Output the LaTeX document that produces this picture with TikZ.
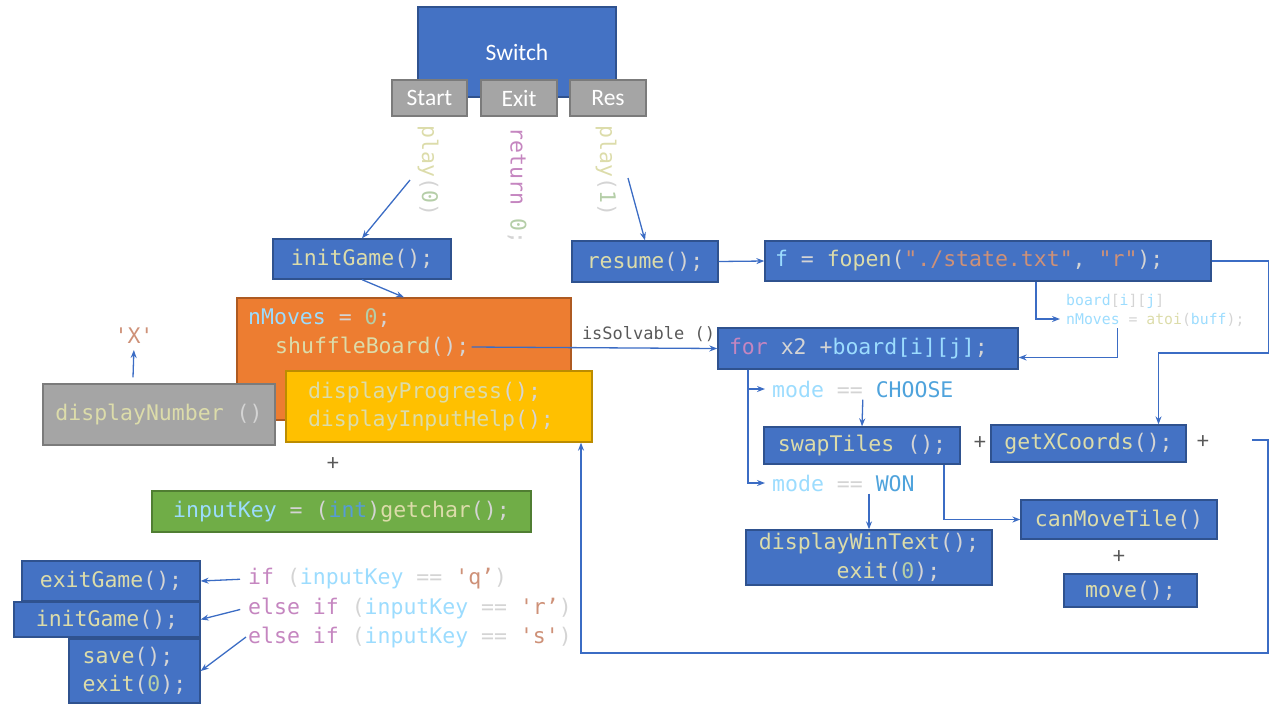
\documentclass[tikz,border=0pt]{standalone}
\usepackage{fontspec}
\setmainfont{Carlito}
\newfontfamily\codefont[Ligatures=TeXOff]{DejaVu Sans Mono}
\usetikzlibrary{arrows.meta}

\definecolor{boxblue}{HTML}{4472C4}
\definecolor{boxblueedge}{HTML}{2F528F}
\definecolor{boxgray}{HTML}{A5A5A5}
\definecolor{boxgrayedge}{HTML}{7B7B7B}
\definecolor{boxorange}{HTML}{ED7D31}
\definecolor{boxorangeedge}{HTML}{AE5A21}
\definecolor{boxyellow}{HTML}{FFC000}
\definecolor{boxyellowedge}{HTML}{BC8C00}
\definecolor{boxgreen}{HTML}{70AD47}
\definecolor{boxgreenedge}{HTML}{507E32}
\definecolor{wireblue}{HTML}{3B6CC4}
\definecolor{cfunc}{HTML}{DCDCAA}
\definecolor{cvar}{HTML}{9CDCFE}
\definecolor{cpunct}{HTML}{D4D4D4}
\definecolor{ckw}{HTML}{C586C0}
\definecolor{cstr}{HTML}{CE9178}
\definecolor{cnum}{HTML}{B5CEA8}
\definecolor{ctype}{HTML}{569CD6}
\definecolor{cenum}{HTML}{4FA3DC}
\definecolor{plusgray}{HTML}{595959}

\newcommand{\codefn}[1]{\textcolor{cfunc}{#1}}
\newcommand{\codevar}[1]{\textcolor{cvar}{#1}}
\newcommand{\codekw}[1]{\textcolor{ckw}{#1}}
\newcommand{\codestr}[1]{\textcolor{cstr}{#1}}
\newcommand{\codenum}[1]{\textcolor{cnum}{#1}}
\newcommand{\codetype}[1]{\textcolor{ctype}{#1}}
\newcommand{\codeenum}[1]{\textcolor{cenum}{#1}}
\newcommand{\codesize}{\fontsize{21.5}{28.5}\selectfont}
\newcommand{\midcodesize}{\fontsize{17}{20}\selectfont}
\newcommand{\smallcodesize}{\fontsize{14.8}{19}\selectfont}
\newcommand{\labelsize}{\fontsize{23.5}{27}\selectfont}

\begin{document}
\begin{tikzpicture}[x=1pt, y=-1pt, >={Stealth[length=8pt,width=6pt]}]
        \tikzstyle{codebox}=[draw=boxblueedge, fill=boxblue, line width=1.3pt, inner sep=2pt, font=\codefont\codesize, text=cpunct]
        \tikzstyle{menubox}=[draw=boxgrayedge, fill=boxgray, line width=1.2pt, inner sep=2pt, font=\labelsize, text=white]
        \tikzstyle{codetext}=[inner sep=2pt, font=\codefont\codesize, text=cpunct]
        \tikzstyle{plussign}=[inner sep=1pt, font=\labelsize, text=plusgray]
        \tikzstyle{link}=[draw=wireblue, line width=1.3pt]

        \useasboundingbox (0,0) rectangle (1276,713);

        \node[codebox, font=\labelsize, text=white, minimum width=198pt, minimum height=90pt] (switch) at (517,52) {Switch};
        \node[menubox, minimum width=75pt, minimum height=36pt] (start) at (429.5,98) {Start};
        \node[menubox, minimum width=76pt, minimum height=36pt] (exit) at (519,98) {Exit};
        \node[menubox, minimum width=76pt, minimum height=36pt] (res) at (608,98) {Res};

        \node[codetext, rotate=-90] (play0) at (428,171) {\codefn{play}(\codenum{0})};
        \node[codetext, rotate=-90] (ret) at (517,186) {\codekw{return} \codenum{0};};
        \node[codetext, rotate=-90] (play1) at (606,171) {\codefn{play}(\codenum{1})};

        \node[codebox, minimum width=178pt, minimum height=40pt] (initgame) at (362,259) {\codefn{initGame}();};
        \node[codebox, minimum width=146pt, minimum height=41pt] (resume) at (645,261.5) {\codefn{resume}();};
        \node[codebox, inner xsep=10pt, text width=426pt, align=flush left, minimum height=40pt] (fopen) at (988,261) {\codevar{f} = \codefn{fopen}(\codestr{"./state.txt"}, \codestr{"r"});};
        \node[codetext, anchor=west, align=flush left, font=\codefont\smallcodesize] (boardtxt) at (1064,310) {\codevar{board}[\codevar{i}][\codevar{j}]\\\codevar{nMoves} = \codefn{atoi}(\codevar{buff});};

        \node[draw=boxorangeedge, fill=boxorange, line width=1.3pt, minimum width=334pt, minimum height=122pt] (shuffle) at (404,359) {};
        \node[codetext, anchor=west] (nmoves) at (246,318) {\codevar{nMoves} = \codenum{0};};
        \node[codetext, anchor=west] (shuffletxt) at (273,347) {\codefn{shuffleBoard}();};
        \node[codebox, draw=boxgrayedge, fill=boxgray, minimum width=232pt, minimum height=61pt] (dispnum) at (159,414.5) {\codefn{displayNumber} ()};
        \node[codebox, draw=boxyellowedge, fill=boxyellow, inner xsep=22pt, text width=262pt, align=flush left, minimum height=71pt] (progress) at (439,406.5) {\codefn{displayProgress}();\\\codefn{displayInputHelp}();};
        \node[codetext] (xchar) at (134,336) {\codestr{'X'}};
        \node[plussign] (plus1) at (333,464) {+};
        \node[codebox, draw=boxgreenedge, fill=boxgreen, minimum width=379pt, minimum height=41pt] (inputkey) at (341.5,511.5) {\codevar{inputKey} = (\codetype{int})\codefn{getchar}();};

        \node[codebox, inner xsep=11pt, text width=278pt, align=flush left, minimum height=41pt] (for) at (868,348.5) {\codekw{for} x2 +\codevar{board[i][j]};};
        \node[codetext, anchor=west] (choose) at (770,389) {\codevar{mode} == \codeenum{CHOOSE}};
        \node[codetext, anchor=west] (won) at (770,483) {\codevar{mode} == \codeenum{WON}};
        \node[codebox, minimum width=196pt, minimum height=37pt] (swap) at (862,445.5) {\codefn{swapTiles} ();};
        \node[plussign] (plus2) at (980,443) {+};
        \node[codebox, minimum width=195pt, minimum height=37pt] (getx) at (1088.5,443.5) {\codefn{getXCoords}();};
        \node[plussign] (plus3) at (1203,442) {+};
        \node[codebox, minimum width=196pt, minimum height=39pt] (canmove) at (1119,519.5) {\codefn{canMoveTile}()};
        \node[plussign] (plus4) at (1119,557) {+};
        \node[codebox, minimum width=133pt, minimum height=33pt] (move) at (1130.5,590.5) {\codefn{move}();};
        \node[codebox, align=flush center, minimum width=246pt, minimum height=55pt] (wintext) at (869,557.5) {\codefn{displayWinText}();\\\phantom{xxx}\codefn{exit}(\codenum{0});};
        \coordinate (loopin) at (1252,440);

        \node[codebox, minimum width=178pt, minimum height=40pt] (exitgame) at (111,581) {\codefn{exitGame}();};
        \node[codebox, minimum width=186pt, minimum height=35pt] (initgame2) at (107,619.5) {\codefn{initGame}();};
        \node[codebox, align=flush left, minimum width=131pt, minimum height=64pt] (savebox) at (134.5,671) {\codefn{save}();\\\codefn{exit}(\codenum{0});};
        \node[codetext, anchor=west] (ifq) at (246,579) {\codekw{if} (\codevar{inputKey} == \codestr{'q’})};
        \node[codetext, anchor=west] (ifr) at (246,608) {\codekw{else if} (\codevar{inputKey} == \codestr{'r’})};
        \node[codetext, anchor=west] (ifs) at (246,637) {\codekw{else if} (\codevar{inputKey} == \codestr{'s'})};

        \draw[link,->] ([xshift=-18pt,yshift=-9pt]play0.center) -- (initgame.north);
        \draw[link,->] ([xshift=22pt,yshift=-7pt]play1.center) -- (resume.north);
        \draw[link,->] (resume.east) -- (fopen.west);
        \draw[link,->] (initgame.south) -- (shuffle.north);
        \draw[link,->, shorten >=4pt] ([xshift=48pt]fopen.south) |- ([yshift=-9pt]boardtxt.west);
        \draw[link,->] ([xshift=-38pt]boardtxt.south) |- ([yshift=-9pt]for.east);
        \draw[link,->] (fopen.east) -- ++(57,0) -- ++(0,92) -| ([xshift=70pt]getx.north);
        \draw[link,->] (shuffletxt.east) -- (for.west)
        node[pos=0.72, above=2pt, font=\codefont\midcodesize, text=plusgray] {isSolvable ()};
        \draw[link,->, shorten >=4pt] ([xshift=-26pt,yshift=6pt]dispnum.north) -- (xchar.south);

        \draw[link,->, shorten >=5pt] ([xshift=-120pt]for.south) |- (choose.west);
        \draw[link,->, shorten >=5pt] ([xshift=-120pt]for.south) |- (won.west);
        \draw[link,->] (choose.south) -- (swap.north);
        \draw[link,->] ([xshift=82pt]swap.south) |- (canmove.west);
        \draw[link,->] (won.south -| wintext.north) -- (wintext.north);
        \draw[link,->] (loopin) -- ++(16,0) -- ++(0,213) -| ([xshift=142pt]progress.south);

        \draw[link,->, shorten <=6pt] (ifq.west) -- (exitgame.east);
        \draw[link,->, shorten <=6pt] (ifr.west) -- (initgame2.east);
        \draw[link,->] (ifs.west) -- (savebox.east);
\end{tikzpicture}
\end{document}
